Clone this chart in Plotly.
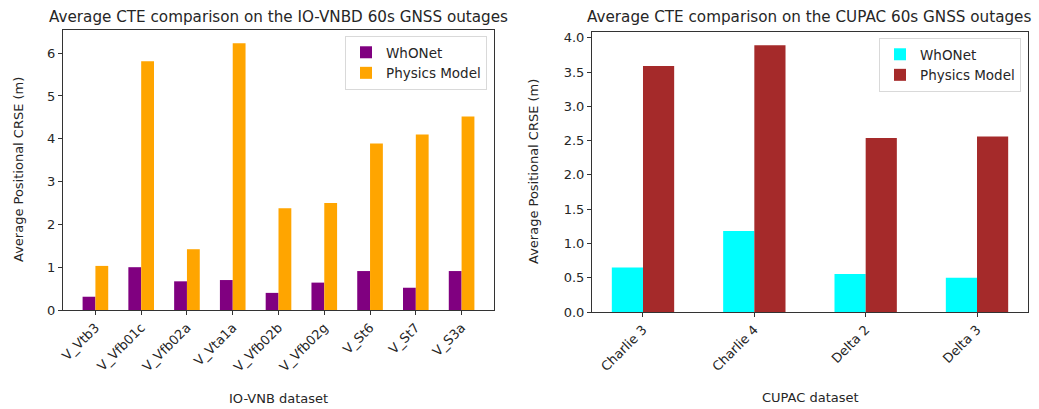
import plotly.graph_objects as go

# Left chart: IO-VNB dataset
vnb_categories = ["V_Vtb3", "V_Vfb01c", "V_Vfb02a", "V_Vta1a", "V_Vfb02b",
                  "V_Vfb02g", "V_St6", "V_St7", "V_S3a"]
vnb_whonet = [0.31, 1.00, 0.67, 0.70, 0.40, 0.64, 0.91, 0.52, 0.91]
vnb_physics = [1.03, 5.81, 1.42, 6.23, 2.38, 2.50, 3.89, 4.10, 4.52]

# Right chart: CUPAC dataset
cupac_categories = ["Charlie 3", "Charlie 4", "Delta 2", "Delta 3"]
cupac_whonet = [0.65, 1.18, 0.555, 0.50]
cupac_physics = [3.59, 3.89, 2.54, 2.56]

FONT = "DejaVu Sans"
TXT = "#262626"
W = 0.28
H = 409.0

fig = go.Figure()

fig.add_trace(go.Bar(x=list(range(len(vnb_categories))), y=vnb_whonet, name="WhONet",
                     marker=dict(color="#800080", line=dict(width=0)),
                     width=W, offset=-W, xaxis="x", yaxis="y", legend="legend"))
fig.add_trace(go.Bar(x=list(range(len(vnb_categories))), y=vnb_physics, name="Physics Model",
                     marker=dict(color="#FFA500", line=dict(width=0)),
                     width=W, offset=0, xaxis="x", yaxis="y", legend="legend"))
fig.add_trace(go.Bar(x=list(range(len(cupac_categories))), y=cupac_whonet, name="WhONet",
                     marker=dict(color="#00FFFF", line=dict(width=0)),
                     width=W, offset=-W, xaxis="x2", yaxis="y2", legend="legend2"))
fig.add_trace(go.Bar(x=list(range(len(cupac_categories))), y=cupac_physics, name="Physics Model",
                     marker=dict(color="#A52A2A", line=dict(width=0)),
                     width=W, offset=0, xaxis="x2", yaxis="y2", legend="legend2"))

axis_common = dict(showline=True, linecolor="#333333", linewidth=1, mirror=True,
                   ticks="outside", ticklen=4, tickcolor="#333333", showgrid=False,
                   zeroline=False, automargin=False,
                   tickfont=dict(family=FONT, size=13, color=TXT))

def xspan(n):
    lo, hi = -W, (n - 1) + W
    m = (hi - lo) * 0.05
    return [lo - m, hi + m]

L_DOM = [63 / 1039, 494 / 1039]
R_DOM = [592 / 1039, 1028 / 1039]
L_YDOM = [1 - 310 / H, 1 - 30 / H]
R_YDOM = [1 - 312 / H, 1 - 32 / H]

def ann(text, x, y, size, angle=0):
    return dict(text=text, x=x, y=y, xref="paper", yref="paper",
                xanchor="center", yanchor="middle", showarrow=False, textangle=angle,
                font=dict(family=FONT, size=size, color=TXT))

fig.update_layout(
    width=1039, height=409,
    margin=dict(l=0, r=0, t=0, b=0),
    paper_bgcolor="white", plot_bgcolor="white",
    barmode="overlay",
    font=dict(family=FONT, size=13, color=TXT),
    xaxis=dict(domain=L_DOM, range=xspan(len(vnb_categories)),
               tickmode="array", tickvals=list(range(len(vnb_categories))),
               ticktext=vnb_categories, tickangle=-45, anchor="y", **axis_common),
    yaxis=dict(domain=L_YDOM, range=[0, max(vnb_physics) * 1.05],
               tickmode="array", tickvals=[0, 1, 2, 3, 4, 5, 6], anchor="x", **axis_common),
    xaxis2=dict(domain=R_DOM, range=xspan(len(cupac_categories)),
                tickmode="array", tickvals=list(range(len(cupac_categories))),
                ticktext=cupac_categories, tickangle=-45, anchor="y2", **axis_common),
    yaxis2=dict(domain=R_YDOM, range=[0, max(cupac_physics) * 1.05],
                tickmode="array", tickvals=[0, 0.5, 1, 1.5, 2, 2.5, 3, 3.5, 4],
                ticktext=["0.0", "0.5", "1.0", "1.5", "2.0", "2.5", "3.0", "3.5", "4.0"],
                anchor="x2", **axis_common),
    legend=dict(x=L_DOM[1] - 7 / 1039, y=L_YDOM[1] - 6 / H, xanchor="right", yanchor="top",
                bgcolor="rgba(255,255,255,0.8)", bordercolor="#d9d9d9", borderwidth=1,
                font=dict(family=FONT, size=13.5, color=TXT), traceorder="normal",
                itemwidth=30, tracegroupgap=0),
    legend2=dict(x=R_DOM[1] - 7 / 1039, y=R_YDOM[1] - 6 / H, xanchor="right", yanchor="top",
                 bgcolor="rgba(255,255,255,0.8)", bordercolor="#d9d9d9", borderwidth=1,
                 font=dict(family=FONT, size=13.5, color=TXT), traceorder="normal",
                 itemwidth=30, tracegroupgap=0),
    annotations=[
        ann("Average CTE comparison on the IO-VNBD 60s GNSS outages",
            278.5 / 1039, 1 - 17 / H, 15.2),
        ann("Average CTE comparison on the CUPAC 60s GNSS outages",
            808.5 / 1039, 1 - 17 / H, 15.2),
        ann("IO-VNB dataset", (L_DOM[0] + L_DOM[1]) / 2, 1 - 398 / H, 13),
        ann("CUPAC dataset", (R_DOM[0] + R_DOM[1]) / 2, 1 - 397 / H, 13),
        ann("Average Positional CRSE (m)", 18 / 1039, (L_YDOM[0] + L_YDOM[1]) / 2, 13, -90),
        ann("Average Positional CRSE (m)", 534 / 1039, (R_YDOM[0] + R_YDOM[1]) / 2, 13, -90),
    ],
)

fig.write_html("out.html", config={"displayModeBar": False},
               post_script="document.body.style.margin='0';document.body.style.overflow='hidden';")
